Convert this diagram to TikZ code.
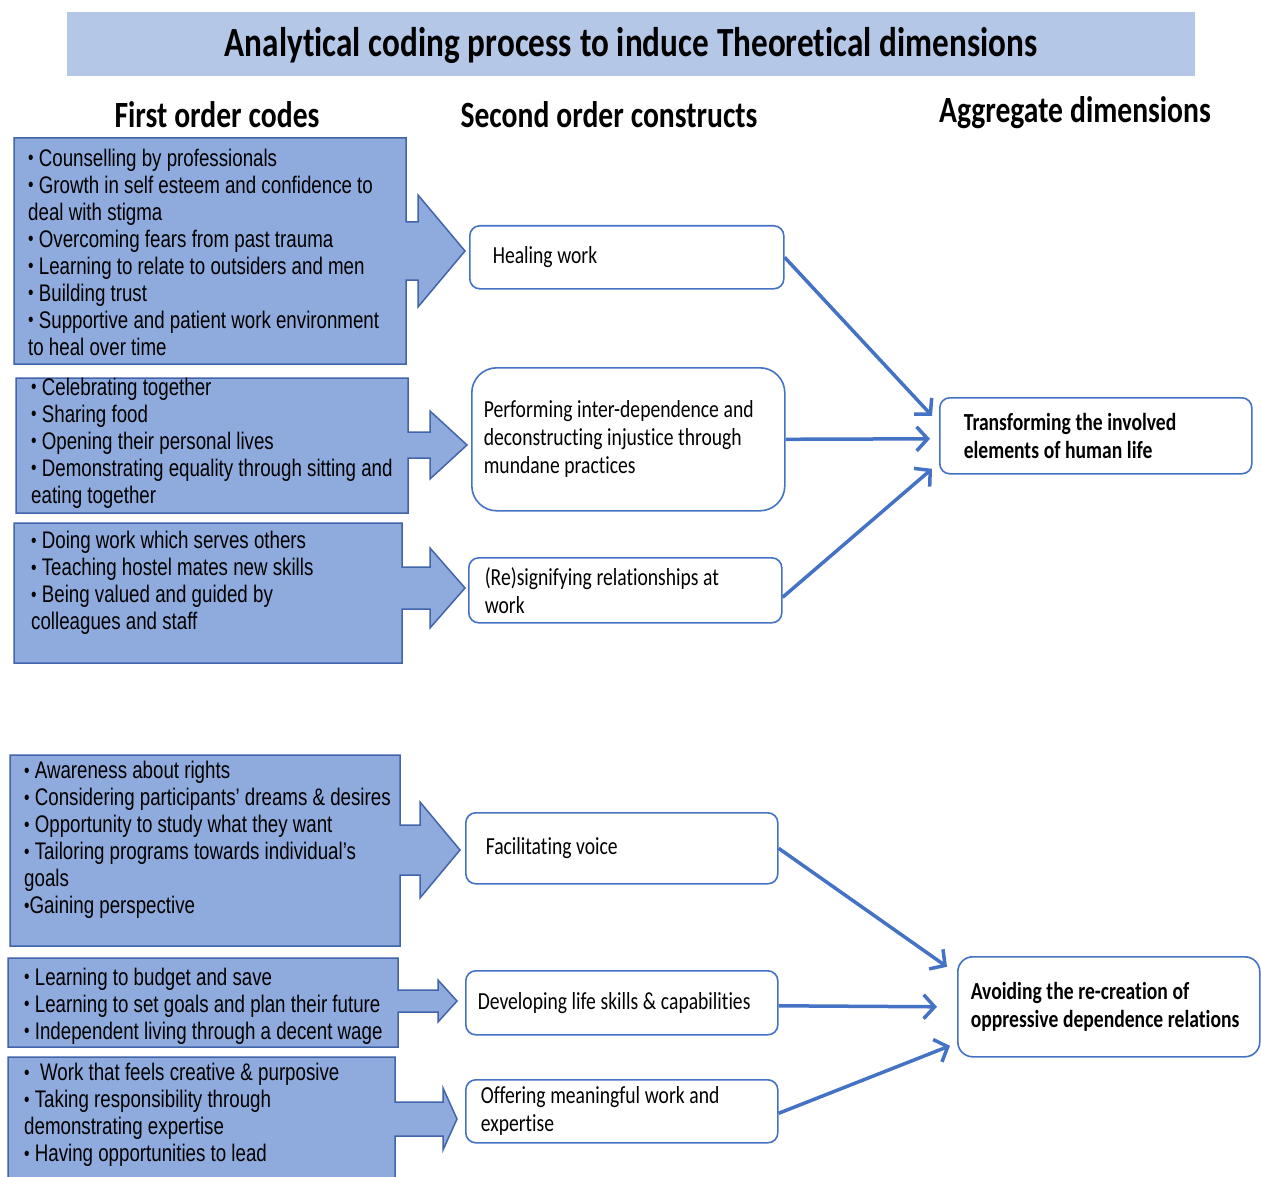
\documentclass[tikz,border=0pt]{standalone}
\usepackage{fontspec}
\setmainfont{Carlito}[FakeStretch=0.8, WordSpace=1.05, Ligatures=NoCommon]
\newfontfamily\codefont{Liberation Sans}[FakeStretch=0.78]
\usetikzlibrary{arrows.meta,positioning}
\definecolor{titlefill}{RGB}{180,199,231}
\definecolor{codefill}{RGB}{143,170,220}
\definecolor{codeline}{RGB}{65,100,170}
\definecolor{linkblue}{RGB}{68,114,196}
\newcommand{\bull}{\raisebox{1.5pt}{\fontsize{20}{20}\selectfont\textbullet}~}
\tikzstyle{codeblock}=[fill=codefill, draw=codeline, line width=1.5pt]
\tikzstyle{codetext}=[align=flush left, anchor=west, inner sep=0pt, font=\codefont\fontsize{24}{27}\selectfont]
\tikzstyle{header}=[font=\bfseries\fontsize{37}{40}\selectfont]
\tikzstyle{constructbox}=[rectangle, rounded corners=10pt, draw=linkblue, line width=1.6pt, fill=white, align=flush left, anchor=north west, inner ysep=0pt, font=\fontsize{24.5}{28}\selectfont]
\tikzstyle{dimbox}=[constructbox, font=\bfseries\fontsize{24.5}{28}\selectfont]
\tikzstyle{link}=[-{Straight Barb[length=11pt,width=24pt]}, line width=3.5pt, draw=linkblue]
% blue block with arrow: x1,y1,x2,y2, head base x, tip x, shaft half, head half, tip y
\newcommand{\codeshape}[9]{
  \path[codeblock] (#1,#2) -- (#3,#2) -- (#3,#9-#7) -- (#5,#9-#7) -- (#5,#9-#8) -- (#6,#9)
    -- (#5,#9+#8) -- (#5,#9+#7) -- (#3,#9+#7) -- (#3,#4) -- (#1,#4) -- cycle;}

\begin{document}
\begin{tikzpicture}[x=1pt, y=-1pt]

\useasboundingbox (0,0) rectangle (1261,1177);
\clip (0,0) rectangle (1261,1177);

\fill[titlefill] (67,12) rectangle (1195,76);
\node[font=\bfseries\fontsize{41.5}{44}\selectfont] (title) at (631,45) {Analytical coding process to induce Theoretical dimensions};

\node[header] (h1) at (217,115) {First order codes};
\node[header] (h2) at (609,115) {Second order constructs};
\node[header] (h3) at (1075,113) {Aggregate dimensions};

\codeshape{14}{138}{406}{364}{418}{465}{29}{56}{251}
\codeshape{16}{378}{408}{513}{430}{467}{13}{34}{445}
\codeshape{14}{523}{402}{663}{430}{465}{21}{40}{588}
\codeshape{10}{755}{400}{946}{420}{460}{25}{48}{850}
\codeshape{8}{958}{398}{1047}{438}{457}{11}{21}{1001}
\codeshape{8}{1057}{395}{1185}{443}{457}{17}{31}{1119}

\node[codetext] (c1) at (28,252) {\bull Counselling by professionals\\ \bull Growth in self esteem and confidence to\\ deal with stigma\\ \bull Overcoming fears from past trauma\\ \bull Learning to relate to outsiders and men\\ \bull Building trust\\ \bull Supportive and patient work environment\\ to heal over time};
\node[codetext] (c2) at (31,443) {\bull Celebrating together\\ \bull Sharing food\\ \bull Opening their personal lives\\ \bull Demonstrating equality through sitting and\\ eating together};
\node[codetext] (c3) at (31,583) {\bull Doing work which serves others\\ \bull Teaching hostel mates new skills\\ \bull Being valued and guided by\\ colleagues and staff};
\node[codetext] (c4) at (24,840) {\bull Awareness about rights\\ \bull Considering participants’ dreams \& desires\\ \bull Opportunity to study what they want\\ \bull Tailoring programs towards individual’s\\ goals\\ \raisebox{1.5pt}{\fontsize{20}{20}\selectfont\textbullet}Gaining perspective};
\node[codetext] (c5) at (24,1006) {\bull Learning to budget and save\\ \bull Learning to set goals and plan their future\\ \bull Independent living through a decent wage};
\node[codetext] (c6) at (24,1115) {\bull\ Work that feels creative \& purposive\\ \bull Taking responsibility through\\ demonstrating expertise\\ \bull Having opportunities to lead};

\node[constructbox, text width=268pt, inner xsep=23pt, minimum height=63pt] (heal) at (469,225) {Healing work};
\node[constructbox, rounded corners=25pt, text width=289pt, inner xsep=12pt, minimum height=143pt] (perform) at (471,367) {Performing inter-dependence and\\ deconstructing injustice through\\ mundane practices};
\node[constructbox, text width=281pt, inner xsep=16pt, minimum height=65pt] (resign) at (468,557) {(Re)signifying relationships at\\ work};
\node[constructbox, text width=272pt, inner xsep=20pt, minimum height=71pt] (voice) at (465,812) {Facilitating voice};
\node[constructbox, text width=288pt, inner xsep=12pt, minimum height=64pt] (skills) at (465,970) {Developing life skills \& capabilities};
\node[constructbox, text width=282pt, inner xsep=15pt, minimum height=63pt] (offer) at (465,1079) {Offering meaningful work and\\ expertise};

\node[dimbox, text width=264pt, inner xsep=24pt, minimum height=76pt] (transform) at (939,397) {Transforming the involved\\ elements of human life};
\node[dimbox, rounded corners=15pt, text width=276pt, inner xsep=13pt, minimum height=100pt] (avoid) at (957,956) {Avoiding the re-creation of\\ oppressive dependence relations};

\draw[link] (heal.east) -- ([xshift=-7pt,yshift=20pt]transform.west);
\draw[link] (perform.east) -- ([xshift=-9pt,yshift=-3pt]transform.west);
\draw[link] ([yshift=-7pt]resign.east) -- ([xshift=-7pt,yshift=-33pt]transform.west);
\draw[link] (voice.east) -- ([xshift=-10pt,yshift=40pt]avoid.west);
\draw[link] ([yshift=-3pt]skills.east) -- ([xshift=-20pt]avoid.west);
\draw[link] ([yshift=-2pt]offer.east) -- ([xshift=-7pt,yshift=-39pt]avoid.west);

\end{tikzpicture}
\end{document}
